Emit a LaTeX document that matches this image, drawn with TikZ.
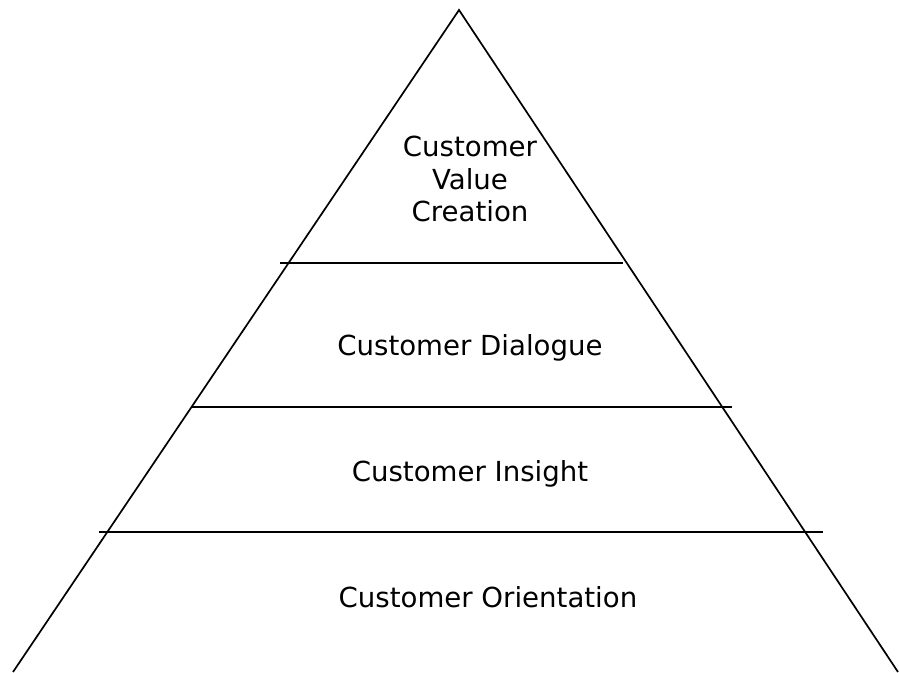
\documentclass[tikz,border=0pt]{standalone}
\usepackage{fontspec}
\setmainfont{DejaVu Sans}
\usetikzlibrary{calc}
\tikzset{
  side/.style={draw, line width=1.7pt},
  tier/.style={draw, line width=1.9pt},
  lbl/.style={align=center, inner sep=0pt, font=\fontsize{27.6}{32.5}\selectfont},
}

\begin{document}
\begin{tikzpicture}[x=1pt, y=-1pt]
  \useasboundingbox (0,0) rectangle (899,672);
  \coordinate (apex) at (459,10);
  \coordinate (bl) at (13,672);
  \coordinate (br) at (898,672);
  \draw[side] (bl) -- (apex) -- (br);
  \draw[tier] (280,263) -- (623,263);
  \draw[tier] (191,407) -- (732,407);
  \draw[tier] (99,532) -- (823,532);
  \node[lbl] (value) at (470,179) {Customer\\Value\\Creation};
  \node[lbl, anchor=base] (dialogue) at (470,355) {Customer Dialogue};
  \node[lbl, anchor=base] (insight) at (470,481) {Customer Insight};
  \node[lbl, anchor=base] (orient) at (488,607) {Customer Orientation};
\end{tikzpicture}
\end{document}
